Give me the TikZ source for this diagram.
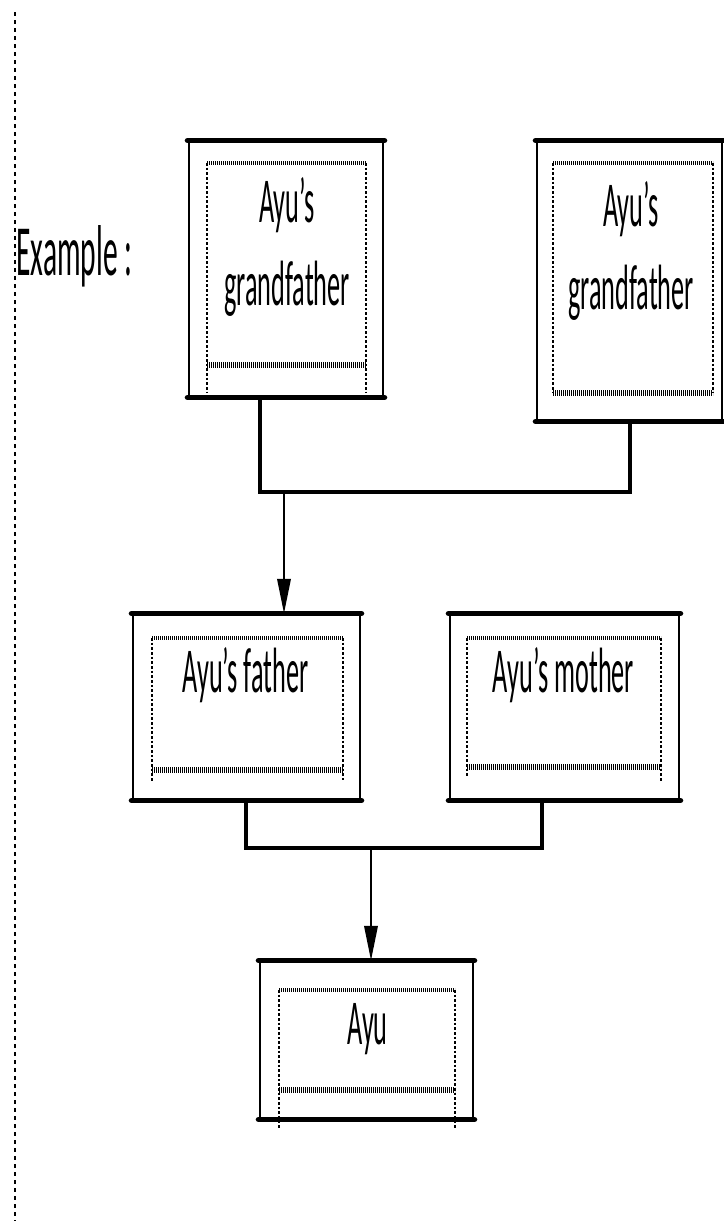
\documentclass[tikz,border=0pt]{standalone}
\usepackage{fontspec}
\setmainfont{Carlito}
\newfontfamily\boxfont[FakeStretch=0.41]{Carlito}
\usetikzlibrary{arrows.meta,fit}

\tikzset{every picture/.style={line width=0.75pt}}
\tikzset{
  outer/.style={draw, line width=2.2pt, inner sep=0pt},
  rim/.style={line width=4.2pt, line cap=round},
  innerside/.style={line width=1.2pt, dash pattern=on 2pt off 1.5pt},
  innertop/.style={line width=2.8pt, dash pattern=on 0.9pt off 0.6pt},
  innerbottom/.style={line width=4.2pt, dash pattern=on 0.9pt off 0.6pt},
  lbl/.style={inner sep=0pt, align=center, font=\boxfont\fontsize{48}{62}\selectfont},
  conn/.style={line width=2.6pt},
  arr/.style={line width=1.8pt, -{Triangle[length=26pt,width=10pt]}},
}

\begin{document}
\begin{tikzpicture}[x=0.75pt,y=0.75pt,yscale=-1,xscale=1]
\useasboundingbox (0,0) rectangle (724,1221);

%Straight Lines
\draw [dash pattern=on 3pt off 3pt, line width=1.5pt] (15,12) -- (15,1221);

% Text Node
\node [anchor=base west, inner sep=0pt, font=\boxfont\fontsize{54}{60}\selectfont] (example) at (16,275) {Example :};

%Shape: Rectangle
\node [outer, fit={(189,142) (383,396)}] (gfA) {};
\draw [rim] (gfA.north west) -- (gfA.north east) (gfA.south west) -- (gfA.south east);
\draw [innerside] (207,163) -- (207,392) (366,163) -- (366,392);
\draw [innertop] (207,163) -- (366,163);
\draw [innerbottom] (207,365) -- (366,365);
% Text Node
\node [lbl, anchor=base] (gfAtext) at (287,305) {Ayu’s\\grandfather};

%Shape: Rectangle
\node [outer, fit={(537,142) (722,420)}] (gfB) {};
\draw [rim] (gfB.north west) -- (gfB.north east) (gfB.south west) -- (gfB.south east);
\draw [innerside] (553,163) -- (553,393) (713,163) -- (713,393);
\draw [innertop] (553,163) -- (713,163);
\draw [innerbottom] (553,393) -- (713,393);
% Text Node
\node [lbl, anchor=base] (gfBtext) at (631,309) {Ayu’s\\grandfather};

%Shape: Rectangle
\node [outer, fit={(133,615) (360,799)}] (dad) {};
\draw [rim] (dad.north west) -- (dad.north east) (dad.south west) -- (dad.south east);
\draw [innerside] (152,638) -- (152,782) (343,638) -- (343,780);
\draw [innertop] (152,638) -- (343,638);
\draw [innerbottom] (152,770) -- (343,770);
% Text Node
\node [lbl, anchor=base] (dadtext) at (245.5,692) {Ayu’s father};

%Shape: Rectangle
\node [outer, fit={(450,615) (679,799)}] (mom) {};
\draw [rim] (mom.north west) -- (mom.north east) (mom.south west) -- (mom.south east);
\draw [innerside] (467,638) -- (467,778) (661,638) -- (661,782);
\draw [innertop] (467,638) -- (661,638);
\draw [innerbottom] (467,767) -- (661,767);
% Text Node
\node [lbl, anchor=base] (momtext) at (563.5,692) {Ayu’s mother};

%Shape: Rectangle
\node [outer, fit={(260,962) (473,1118)}] (ayu) {};
\draw [rim] (ayu.north west) -- (ayu.north east) (ayu.south west) -- (ayu.south east);
\draw [innerside] (279,990) -- (279,1130) (455,990) -- (455,1130);
\draw [innertop] (279,990) -- (455,990);
\draw [innerbottom] (279,1090) -- (455,1090);
% Text Node
\node [lbl, anchor=base] (ayutext) at (367.5,1044) {Ayu};

%Straight Lines
\coordinate (j1) at (260,492);
\coordinate (j2) at (630,492);
\coordinate (a1) at (284,492);
\draw [conn] (gfA.south -| j1) -- (j1) -- (j2) -- (gfB.south -| j2);
\draw [arr] (a1) -- (a1 |- dad.north);

%Straight Lines
\coordinate (j3) at (246,848);
\coordinate (j4) at (542,848);
\coordinate (a2) at (371,848);
\draw [conn] (dad.south -| j3) -- (j3) -- (j4) -- (mom.south -| j4);
\draw [arr] (a2) -- (a2 |- ayu.north);

\end{tikzpicture}
\end{document}
